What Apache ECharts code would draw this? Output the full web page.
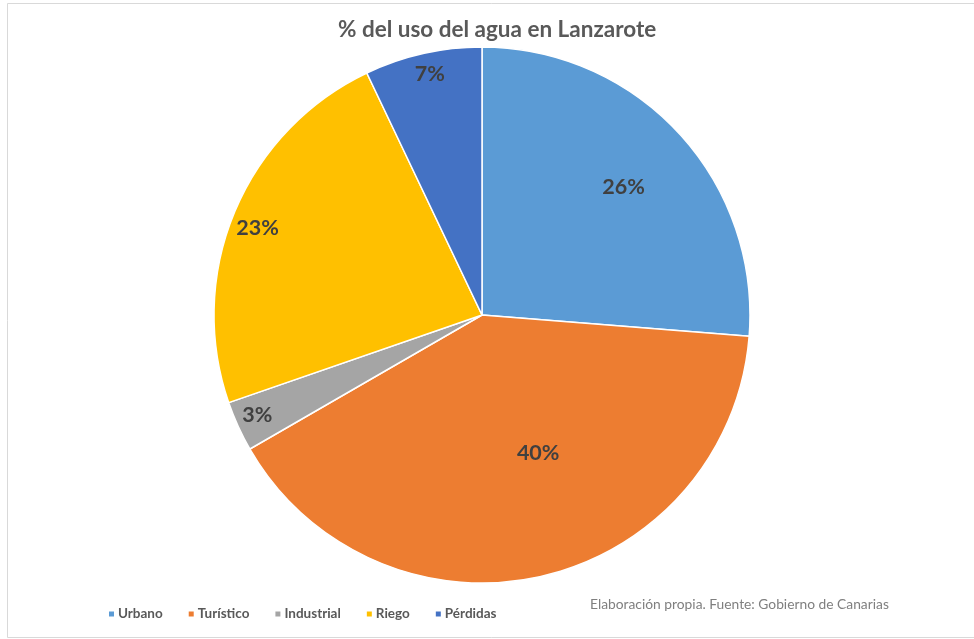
<!DOCTYPE html>
<html>
<head>
<meta charset="utf-8">
<script src="https://cdn.jsdelivr.net/npm/echarts@6/dist/echarts.min.js"></script>
<style>
  html, body { margin: 0; padding: 0; background: #ffffff; }
  #chart { width: 974px; height: 639px; }
</style>
</head>
<body>
<div id="chart"></div>
<script>
// Water use shares in Lanzarote (percent)
const categories = ['Urbano', 'Turístico', 'Industrial', 'Riego', 'Pérdidas'];
const shares = [26, 40, 3, 23, 7];
const colors = ['#5B9BD5', '#ED7D31', '#A5A5A5', '#FFC000', '#4472C4'];
// nudges that move each percentage label off the default inner position
const labelShiftX = [41, 26, -100, -98, -22];
const labelShiftY = [-35, 4, 43, -34, -107];

const chart = echarts.init(document.getElementById('chart'));

chart.setOption({
  backgroundColor: '#ffffff',
  animation: false,
  title: {
    text: '% del uso del agua en Lanzarote',
    left: 333,
    top: 13,
    textStyle: {
      fontFamily: 'Lato',
      fontWeight: 'bold',
      fontSize: 22.5,
      color: '#595959'
    }
  },
  legend: {
    data: categories,
    left: 102,
    top: 602,
    icon: 'rect',
    itemWidth: 7,
    itemHeight: 7,
    itemGap: 24,
    textStyle: {
      fontFamily: 'Lato',
      fontWeight: 'bold',
      fontSize: 13.5,
      color: '#595959',
      padding: [0, 0, 0, -2]
    }
  },
  graphic: [
    {
      type: 'rect',
      shape: { x: 7.5, y: 3.5, width: 980, height: 634 },
      style: { fill: 'none', stroke: '#d9d9d9', lineWidth: 1 },
      silent: true
    },
    {
      type: 'text',
      left: 590,
      top: 598,
      style: {
        text: 'Elaboración propia. Fuente: Gobierno de Canarias',
        font: '13.8px Lato',
        fill: '#7f7f7f'
      }
    }
  ],
  series: [{
    type: 'pie',
    center: [482, 315],
    radius: [0, 268],
    startAngle: 90,
    clockwise: true,
    avoidLabelOverlap: false,
    color: colors,
    itemStyle: { borderColor: '#ffffff', borderWidth: 1.5 },
    label: {
      show: true,
      position: 'inside',
      formatter: '{c}%',
      fontFamily: 'Lato',
      fontWeight: 'bold',
      fontSize: 21.5,
      color: '#404040'
    },
    labelLine: { show: false },
    labelLayout: function (params) {
      return { dx: labelShiftX[params.dataIndex], dy: labelShiftY[params.dataIndex] };
    },
    emphasis: { disabled: true },
    data: categories.map((name, i) => ({ name: name, value: shares[i] }))
  }]
});
</script>
</body>
</html>
